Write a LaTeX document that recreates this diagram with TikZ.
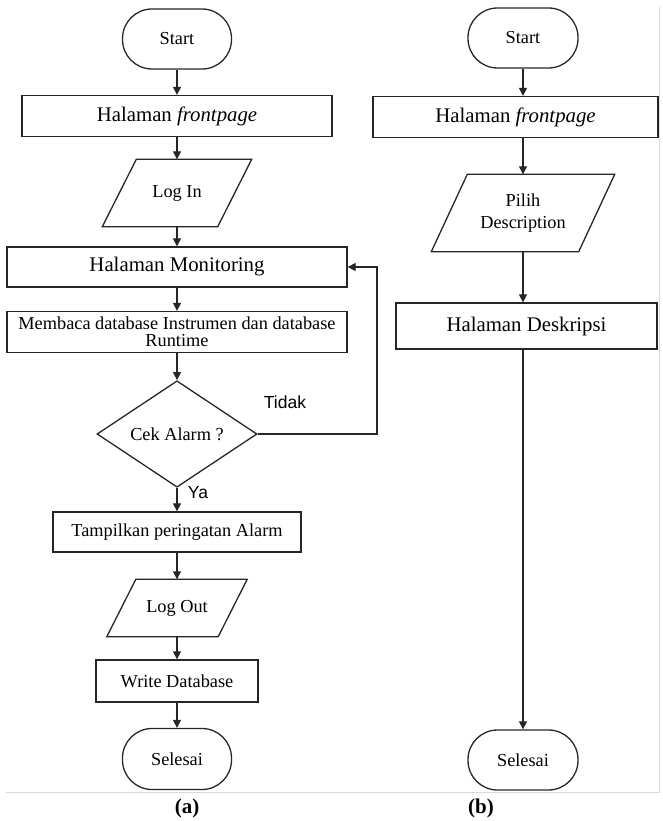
\documentclass[tikz,border=0pt]{standalone}
\usepackage{fontspec}
\setmainfont{Liberation Serif}
\newfontfamily\labelfont{Liberation Sans}
\usetikzlibrary{arrows.meta, shapes.geometric}

% slanted outline round an io node: #1 node name, #2 half slant
\newcommand{\ioframe}[2]{%
  \draw[ioline] ([xshift=#2]#1.north west) -- ([xshift=#2]#1.north east)
    -- ([xshift=-#2]#1.south east) -- ([xshift=-#2]#1.south west) -- cycle;}

\begin{document}
\begin{tikzpicture}[
    x=1pt, y=-1pt,
    box/.style={rectangle, draw=black!85, line width=1.3pt, minimum height=41pt, align=center, inner sep=0pt, font=\fontsize{18.3}{17}\selectfont},
    bigbox/.style={box, font=\fontsize{20.8}{24}\selectfont},
    terminal/.style={box, rounded corners=29.5pt, minimum width=109pt, minimum height=60pt},
    io/.style={rectangle, inner sep=0pt, align=center, font=\fontsize{18.3}{22}\selectfont},
    ioline/.style={draw=black!85, line width=1.3pt, line join=miter},
    decision/.style={diamond, draw=black!85, line width=1.3pt, minimum width=160pt, minimum height=95pt, inner sep=0pt, font=\fontsize{18.3}{22}\selectfont},
    lbl/.style={font=\labelfont\fontsize{17.5}{20}\selectfont},
    arrow/.style={-{Triangle[width=8pt,length=8pt]}, line width=1.2pt, draw=black!85}
]
    \useasboundingbox (0,0) rectangle (662,821);

    % Nodes (a)
    \node[terminal] (startA) at (177,39) {Start};
    \node[bigbox, minimum width=310pt] (frontA) at (177,116) {Halaman \textit{frontpage}};
    \node[io, minimum width=115pt, minimum height=67pt] (loginA) at (177,193) {Log In};
    \node[bigbox, minimum width=340pt, minimum height=40pt] (monA) at (177,267) {Halaman Monitoring};
    \node[box, minimum width=340pt] (bacaA) at (177,332) {Membaca database Instrumen dan database\\Runtime};
    \node[decision] (cekA) at (177,434) {Cek Alarm ?};
    \node[box, minimum width=248pt, minimum height=40pt] (alarmA) at (177,532) {Tampilkan peringatan Alarm};
    \node[io, minimum width=111pt, minimum height=57pt] (logoutA) at (177,608) {Log Out};
    \node[box, minimum width=162pt, minimum height=42pt] (writeA) at (177,681) {Write Database};
    \node[terminal, minimum height=61pt] (selesaiA) at (177,759) {Selesai};
    \coordinate (loopA) at (377,267);
    \node[lbl] (tidak) at (285,402) {Tidak};
    \node[lbl] (ya) at (198,493) {Ya};
    \ioframe{loginA}{17pt}
    \ioframe{logoutA}{14.5pt}

    % Nodes (b)
    \node[terminal, minimum width=110pt] (startB) at (523,38) {Start};
    \node[bigbox, minimum width=285pt] (frontB) at (515.5,117) {Halaman \textit{frontpage}};
    \node[io, minimum width=147pt, minimum height=77pt] (pilihB) at (523,213) {Pilih\\Description};
    \node[bigbox, minimum width=261pt, minimum height=46pt] (deskB) at (526.5,326) {Halaman Deskripsi};
    \node[terminal, minimum width=110pt] (selesaiB) at (523,760) {Selesai};
    \ioframe{pilihB}{18pt}

    % Frame and captions
    \draw[black!15, line width=1pt] (6,792) -- (659,792) -- (659,7);
    \node[font=\bfseries\fontsize{21}{24}\selectfont] (capA) at (187,808) {(a)};
    \node[font=\bfseries\fontsize{21}{24}\selectfont] (capB) at (481,808) {(b)};

    % Arrows (a)
    \draw[arrow] (startA) -- (frontA);
    \draw[arrow] (frontA) -- (loginA);
    \draw[arrow] (loginA) -- (monA);
    \draw[arrow] (monA) -- (bacaA);
    \draw[arrow] (bacaA) -- (cekA);
    \draw[arrow] (cekA) -- (alarmA);
    \draw[arrow] (cekA.east) -| (loopA) -- (monA.east);
    \draw[arrow] (alarmA) -- (logoutA);
    \draw[arrow] (logoutA) -- (writeA);
    \draw[arrow] (writeA) -- (selesaiA);

    % Arrows (b)
    \draw[arrow] (startB) -- (startB |- frontB.north);
    \draw[arrow] (startB |- frontB.south) -- (pilihB);
    \draw[arrow] (pilihB) -- (pilihB |- deskB.north);
    \draw[arrow] (pilihB |- deskB.south) -- (selesaiB);
\end{tikzpicture}
\end{document}
